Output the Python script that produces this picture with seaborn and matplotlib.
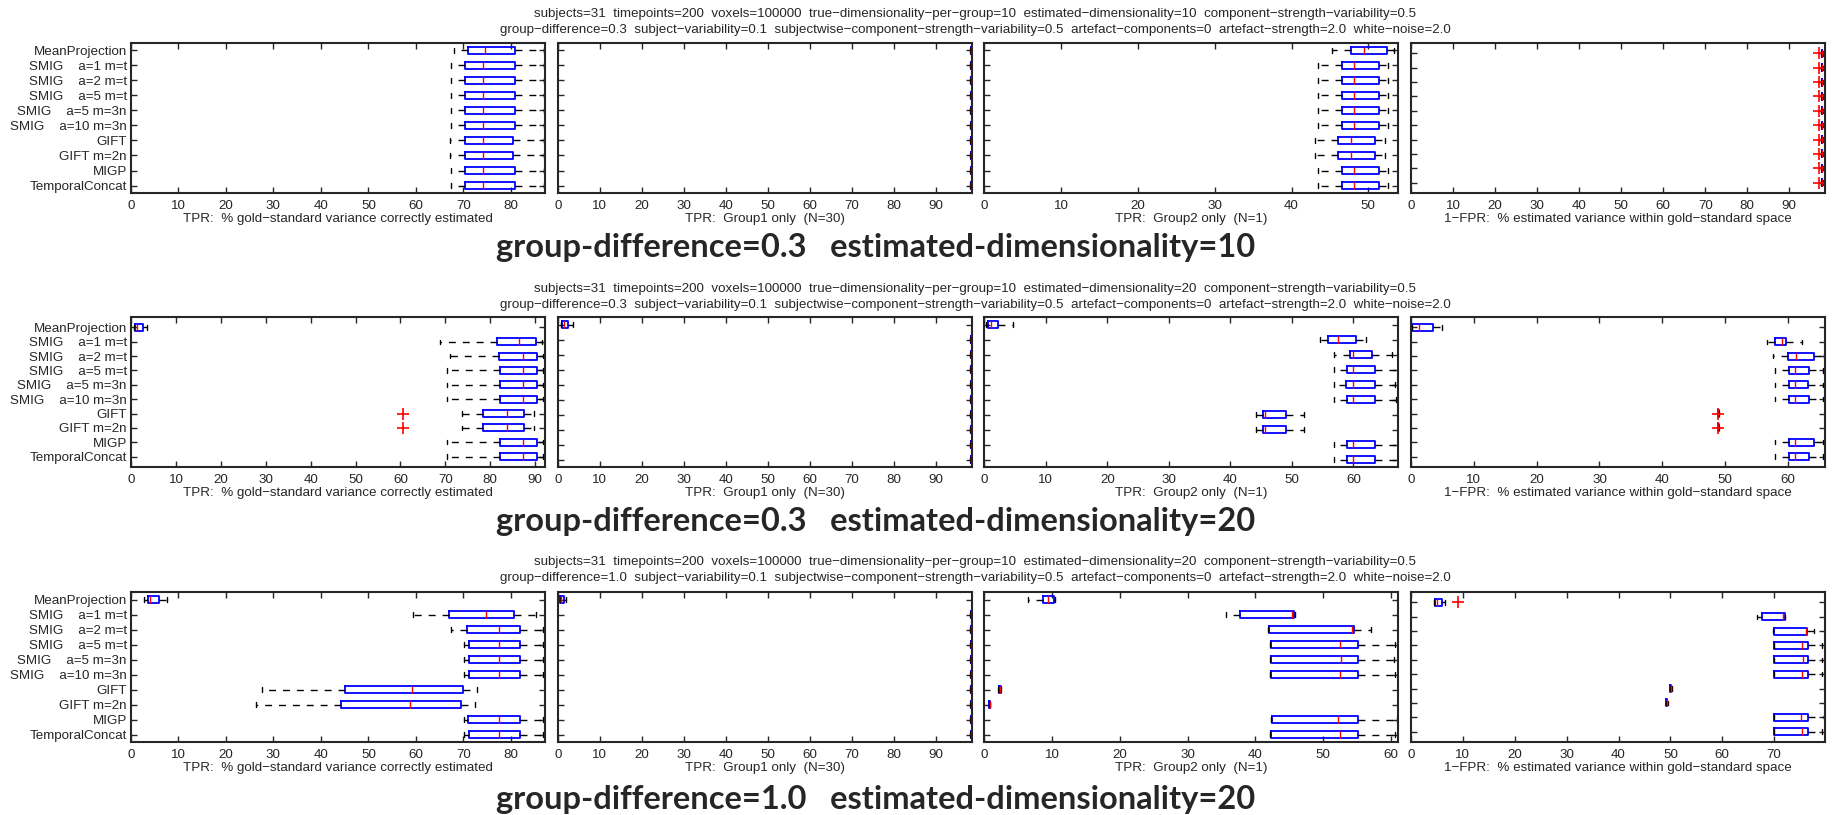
import pandas as pd
import seaborn as sns
import matplotlib.pyplot as plt
from matplotlib.ticker import MultipleLocator

methods = ["MeanProjection", "SMIG    a=1 m=t", "SMIG    a=2 m=t", "SMIG    a=5 m=t",
           "SMIG    a=5 m=3n", "SMIG    a=10 m=3n", "GIFT", "GIFT m=2n", "MIGP", "TemporalConcat"]

xlabels = ["TPR:  % gold\u2212standard variance correctly estimated",
           "TPR:  Group1 only  (N=30)",
           "TPR:  Group2 only  (N=1)",
           "1\u2212FPR:  % estimated variance within gold\u2212standard space"]

# box stats per method: (whisker low, q1, median, q3, whisker high)
# --- group-difference=0.3, estimated-dimensionality=10
r1_tpr = [(68.0, 71.0, 74.6, 80.8, 86.9), (67.4, 70.4, 74.1, 80.8, 86.9), (67.4, 70.4, 74.1, 80.8, 86.9),
          (67.4, 70.4, 74.1, 80.8, 86.9), (67.4, 70.4, 74.1, 80.8, 86.9), (67.4, 70.4, 74.1, 80.8, 86.9),
          (67.2, 70.3, 74.1, 80.5, 86.9), (67.2, 70.3, 74.1, 80.5, 86.9), (67.4, 70.4, 74.1, 80.8, 86.9),
          (67.4, 70.4, 74.1, 80.8, 86.9)]
r1_g1 = [(98.2, 98.25, 98.3, 98.35, 98.4)] * 10
r1_g2 = [(45.3, 47.8, 49.4, 52.4, 53.4), (43.5, 46.6, 48.1, 51.4, 52.5), (43.5, 46.6, 48.1, 51.4, 52.5),
         (43.5, 46.6, 48.1, 51.4, 52.5), (43.5, 46.6, 48.1, 51.4, 52.5), (43.5, 46.6, 48.1, 51.4, 52.5),
         (43.1, 46.1, 47.8, 50.9, 52.2), (43.1, 46.1, 47.8, 50.9, 52.2), (43.5, 46.6, 48.1, 51.4, 52.5),
         (43.5, 46.6, 48.1, 51.4, 52.5)]
r1_fpr = [(97.6, 97.7, 97.8, 97.9, 98.0)] * 10
r1_fpr_out = {i: [97.1] for i in range(10)}

# --- group-difference=0.3, estimated-dimensionality=20
r2_tpr = [(0.7, 0.9, 1.3, 2.7, 3.6), (68.9, 81.4, 86.3, 90.1, 91.5), (71.1, 82.0, 87.2, 90.5, 91.8),
          (70.4, 82.2, 87.2, 90.5, 91.8), (70.4, 82.2, 87.2, 90.5, 91.8), (70.4, 82.2, 87.2, 90.5, 91.8),
          (73.8, 78.4, 83.8, 87.5, 89.8), (73.8, 78.4, 83.8, 87.5, 89.8), (70.4, 82.2, 87.2, 90.5, 91.8),
          (70.4, 82.2, 87.2, 90.5, 91.8)]
r2_tpr_out = {6: [60.6], 7: [60.6]}
r2_g1 = [(0.7, 1.0, 1.5, 2.5, 3.6)] + [(98.2, 98.25, 98.3, 98.35, 98.4)] * 9
r2_g2 = [(0.3, 0.6, 1.1, 2.3, 4.6), (54.6, 55.9, 57.5, 60.4, 62.0), (56.8, 59.5, 60.0, 63.1, 66.2),
         (56.8, 59.0, 60.0, 63.5, 67.2), (56.8, 58.8, 60.0, 63.5, 66.8), (56.8, 59.0, 60.0, 63.5, 67.0),
         (44.1, 45.3, 45.6, 49.1, 52.0), (44.1, 45.3, 45.6, 49.1, 52.0), (56.8, 59.0, 60.0, 63.5, 67.2),
         (56.8, 59.0, 60.0, 63.5, 67.2)]
r2_fpr = [(0.1, 0.2, 1.2, 3.5, 5.0), (56.7, 57.9, 59.1, 59.7, 62.2), (57.7, 60.0, 61.3, 64.2, 65.8),
          (57.9, 60.2, 61.1, 63.3, 65.6), (57.9, 60.2, 61.1, 63.2, 65.6), (57.9, 60.2, 61.1, 63.3, 65.6),
          (48.8, 48.85, 48.9, 48.95, 49.0), (48.8, 48.85, 48.9, 48.95, 49.0), (57.9, 60.1, 61.1, 64.2, 65.6),
          (57.9, 60.2, 61.1, 63.3, 65.6)]
r2_fpr_out = {6: [48.9], 7: [48.9]}

# --- group-difference=1.0, estimated-dimensionality=20
r3_tpr = [(2.7, 3.5, 4.0, 5.9, 7.6), (59.5, 67.0, 74.7, 80.7, 85.3), (67.5, 70.7, 77.6, 81.9, 86.7),
          (70.1, 71.2, 77.6, 81.9, 86.7), (70.1, 71.2, 77.6, 81.9, 86.7), (70.1, 71.2, 77.6, 81.9, 86.7),
          (27.5, 45.0, 59.2, 69.9, 72.8), (26.3, 44.2, 58.7, 69.6, 72.4), (70.1, 70.9, 77.6, 81.9, 86.7),
          (70.1, 71.2, 77.6, 81.9, 86.7)]
r3_g1 = [(0.5, 0.6, 0.8, 1.5, 2.0)] + [(98.2, 98.25, 98.3, 98.35, 98.4)] * 9
r3_g2 = [(6.4, 8.7, 9.4, 10.3, 10.5), (35.7, 37.7, 45.4, 45.7, 45.9), (41.8, 42.0, 54.3, 54.5, 57.0),
         (42.1, 42.3, 52.5, 55.2, 60.6), (42.1, 42.3, 52.7, 55.2, 60.4), (42.1, 42.3, 52.5, 55.2, 60.6),
         (2.0, 2.1, 2.3, 2.4, 2.5), (0.7, 0.75, 0.8, 0.85, 0.9), (42.3, 42.5, 52.2, 55.2, 60.9),
         (42.1, 42.3, 52.5, 55.2, 60.6)]
r3_fpr = [(4.4, 4.6, 5.1, 6.0, 6.5), (66.6, 67.6, 71.8, 72.1, 72.1), (69.8, 69.9, 76.1, 76.3, 77.6),
          (70.0, 70.0, 75.3, 76.6, 79.3), (70.0, 70.0, 75.5, 76.6, 79.3), (70.0, 70.0, 75.3, 76.6, 79.3),
          (49.9, 50.0, 50.1, 50.2, 50.3), (49.1, 49.2, 49.3, 49.4, 49.5), (70.0, 70.0, 75.1, 76.6, 79.7),
          (70.0, 70.0, 75.3, 76.6, 79.3)]
r3_fpr_out = {0: [9.1]}

rows = [
    dict(gd="0.3", dim="10", stats=[r1_tpr, r1_g1, r1_g2, r1_fpr],
         out=[{}, {}, {}, r1_fpr_out], xmax=[87.2, 98.5, 53.9, 98.5]),
    dict(gd="0.3", dim="20", stats=[r2_tpr, r2_g1, r2_g2, r2_fpr],
         out=[r2_tpr_out, {}, {}, r2_fpr_out], xmax=[92.2, 98.5, 67.3, 65.9]),
    dict(gd="1.0", dim="20", stats=[r3_tpr, r3_g1, r3_g2, r3_fpr],
         out=[{}, {}, {}, r3_fpr_out], xmax=[87.2, 98.5, 61.1, 79.8]),
]

sns.set_style("ticks")
plt.rcParams["font.family"] = ["Liberation Sans", "DejaVu Sans"]

W, H = 1832, 815
fig = plt.figure(figsize=(W / 100, H / 100), dpi=100)

lefts = [131, 557.7, 984.3, 1411]
bottoms = [193, 467, 742]
head1 = [14, 289, 562]
head2 = [30, 305, 578]
bold_y = [248, 522, 799]
fs = 9.6

for r, row in enumerate(rows):
    for p in range(4):
        ax = fig.add_axes([lefts[p] / W, 1 - bottoms[r] / H, 414 / W, 150 / H])
        df = pd.DataFrame([(m, v) for m, s in zip(methods, row["stats"][p]) for v in s],
                          columns=["method", "value"])
        sns.boxplot(data=df, x="value", y="method", order=methods, orient="h", ax=ax,
                    whis=(0, 100), width=0.5, fill=False, showfliers=False, linewidth=1.3,
                    boxprops=dict(color="blue"),
                    medianprops=dict(color="red", linewidth=1),
                    whiskerprops=dict(color="black", linestyle=(0, (5, 5)), linewidth=1),
                    capprops=dict(color="black", linewidth=1),
                    capwidths=0.3)
        for i, vals in row["out"][p].items():
            ax.plot(vals, [i] * len(vals), "+", color="red", ms=8, mew=1.2)
        ax.set_xlim(0, row["xmax"][p])
        ax.xaxis.set_major_locator(MultipleLocator(10))
        ax.tick_params(direction="in", length=4, width=1, top=True, right=True,
                       labelsize=fs, pad=3)
        ax.tick_params(axis="x", pad=5)
        ax.set_xlabel(xlabels[p], fontsize=fs, labelpad=1)
        ax.set_ylabel("")
        if p > 0:
            ax.tick_params(labelleft=False)
        for sp in ax.spines.values():
            sp.set_linewidth(1.5)

    fig.text(975 / W, 1 - head1[r] / H,
             "subjects=31  timepoints=200  voxels=100000  true\u2212dimensionality\u2212per\u2212group=10  "
             f"estimated\u2212dimensionality={row['dim']}  component\u2212strength\u2212variability=0.5",
             ha="center", va="center", fontsize=fs)
    fig.text(975 / W, 1 - head2[r] / H,
             f"group\u2212difference={row['gd']}  subject\u2212variability=0.1  "
             "subjectwise\u2212component\u2212strength\u2212variability=0.5  artefact\u2212components=0  "
             "artefact\u2212strength=2.0  white\u2212noise=2.0",
             ha="center", va="center", fontsize=fs)
    fig.text(876 / W, 1 - bold_y[r] / H,
             f"group-difference={row['gd']}   estimated-dimensionality={row['dim']}",
             ha="center", va="center", fontsize=23.5, fontweight="bold", family=["Lato", "DejaVu Sans"])

fig.savefig("out.png", dpi=100)
